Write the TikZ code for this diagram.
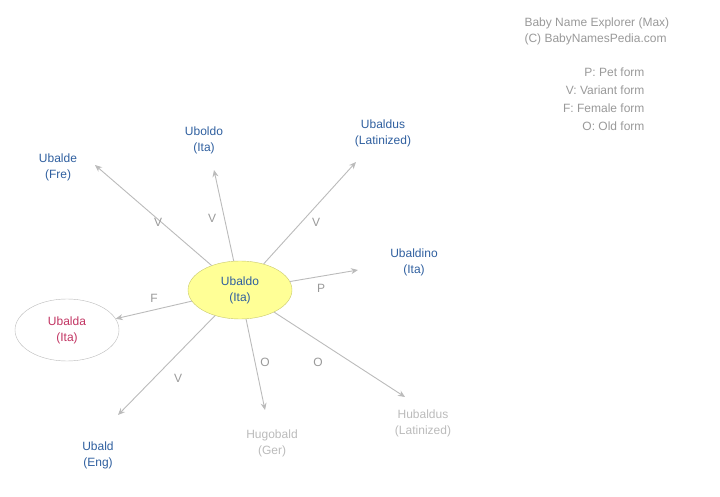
\documentclass[tikz,border=0pt]{standalone}
\usepackage{fontspec}
\setmainfont{Liberation Sans}
\usetikzlibrary{shapes.geometric,arrows.meta}
\definecolor{nblue}{HTML}{2F5F9F}
\definecolor{ngray}{HTML}{BBBBBB}
\definecolor{lgray}{HTML}{999999}
\definecolor{fred}{HTML}{C23462}
\begin{document}
\begin{tikzpicture}[x=1pt,y=-1pt,font=\fontsize{12}{16}\selectfont,
  lbl/.style={align=center,text=nblue},
  glbl/.style={align=center,text=ngray},
  elbl/.style={text=lgray},
  arr/.style={draw=ngray,line width=0.9pt,-{Stealth[length=7pt,width=6pt]}}]
\useasboundingbox (0,0) rectangle (720,497);
\node[ellipse,draw={rgb,255:red,200;green,200;blue,110},fill={rgb,255:red,255;green,255;blue,150},minimum width=104pt,minimum height=58pt,align=center,text=nblue] (c) at (240,290) {Ubaldo\\(Ita)};
\node[ellipse,draw=ngray,fill=white,minimum width=104pt,minimum height=62pt,align=center,text=fred] (fa) at (67,330) {Ubalda\\(Ita)};
\node[lbl] (n1) at (58,167) {Ubalde\\(Fre)};
\node[lbl] (n2) at (204,140) {Uboldo\\(Ita)};
\node[lbl] (n3) at (383,133) {Ubaldus\\(Latinized)};
\node[lbl] (n4) at (414,262) {Ubaldino\\(Ita)};
\node[lbl] (n5) at (98,455) {Ubald\\(Eng)};
\node[glbl] (n6) at (272,443) {Hugobald\\(Ger)};
\node[glbl] (n7) at (423,423) {Hubaldus\\(Latinized)};
\coordinate (e1) at (95,165);
\coordinate (e2) at (214,170);
\coordinate (e3) at (356,162);
\coordinate (e4) at (358,270);
\coordinate (e5) at (118,415);
\coordinate (e6) at (265,410);
\coordinate (e7) at (405,397);
\draw[arr] (c) -- (e1);
\draw[arr] (c) -- (e2);
\draw[arr] (c) -- (e3);
\draw[arr] (c) -- (e4);
\draw[arr] (c) -- (fa);
\draw[arr] (c) -- (e5);
\draw[arr] (c) -- (e6);
\draw[arr] (c) -- (e7);
\node[elbl] (l1) at (158,222) {V};
\node[elbl] (l2) at (212,218) {V};
\node[elbl] (l3) at (316,222) {V};
\node[elbl] (l4) at (321,288) {P};
\node[elbl] (l5) at (154,298) {F};
\node[elbl] (l6) at (178,378) {V};
\node[elbl] (l7) at (265,362) {O};
\node[elbl] (l8) at (318,362) {O};
\node[text=lgray,align=left,anchor=west] (h) at (521,31) {Baby Name Explorer (Max)\\(C) BabyNamesPedia.com};
\node[text=lgray,align=right,anchor=east,font=\fontsize{12}{18}\selectfont] (lg) at (648,99) {P: Pet form\\V: Variant form\\F: Female form\\O: Old form};
\end{tikzpicture}
\end{document}
